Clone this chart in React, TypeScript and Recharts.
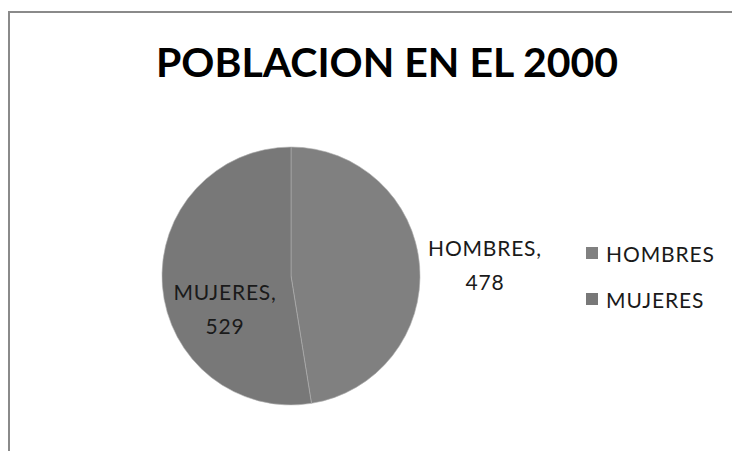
import React from 'react';
import { PieChart, Pie, Cell, Legend } from 'recharts';

const categories = ['HOMBRES', 'MUJERES'];
const values = [478, 529];
const colors = ['#808080', '#787878'];
const title = 'POBLACION EN EL 2000';

const data = categories.map((name, i) => ({ name, value: values[i] }));

const FONT = 'Lato, "Open Sans", sans-serif';

// label offsets relative to the pie centre, per slice
const labelAnchors = [
  { dx: 194, dy: -10 },
  { dx: -66, dy: 34 },
];

const renderLabel = (props: any) => {
  const { cx, cy, index, name, value } = props;
  const a = labelAnchors[index];
  const x = cx + a.dx;
  const y = cy + a.dy;
  return (
    <text x={x} y={y} textAnchor="middle" fill="#1a1a1a" fontFamily={FONT} fontSize={21} letterSpacing={0.8}>
      <tspan x={x} dy={-10}>{name + ','}</tspan>
      <tspan x={x} dy={34}>{value}</tspan>
    </text>
  );
};

const LegendContent = () => (
  <div style={{ fontFamily: FONT, fontSize: 21, letterSpacing: 0.9, color: '#1a1a1a' }}>
    {data.map((d, i) => (
      <div key={d.name} style={{ display: 'flex', alignItems: 'center', height: 46 }}>
        <span style={{ width: 12, height: 12, background: colors[i], marginRight: 8, display: 'inline-block' }} />
        <span>{d.name}</span>
      </div>
    ))}
  </div>
);

export default function App() {
  return (
    <div style={{ position: 'absolute', left: 0, top: 0, width: 732, height: 451, background: '#fff', overflow: 'hidden' }}>
      <div style={{ position: 'absolute', left: 8, top: 11, width: 740, height: 2, background: '#8a8a8a' }} />
      <div style={{ position: 'absolute', left: 8, top: 11, width: 2, height: 450, background: '#8a8a8a' }} />
      <div
        style={{
          position: 'absolute',
          left: 0,
          top: 37,
          width: 774,
          textAlign: 'center',
          fontFamily: FONT,
          fontWeight: 700,
          fontSize: 41,
          letterSpacing: 0,
          color: '#000',
        }}
      >
        {title}
      </div>
      <div style={{ position: 'absolute', left: 0, top: 0 }}>
        <PieChart width={732} height={451} margin={{ top: 0, right: 0, bottom: 0, left: 0 }}>
          <Pie
            data={data}
            dataKey="value"
            nameKey="name"
            cx={291}
            cy={276}
            outerRadius={129}
            startAngle={90}
            endAngle={-270}
            stroke="#b0b0b0"
            strokeWidth={0.6}
            label={renderLabel}
            labelLine={false}
            isAnimationActive={false}
          >
            {data.map((d, i) => (
              <Cell key={d.name} fill={colors[i]} />
            ))}
          </Pie>
          <Legend
            layout="vertical"
            content={<LegendContent />}
            wrapperStyle={{ position: 'absolute', left: 586, top: 230, width: 130 }}
          />
        </PieChart>
      </div>
    </div>
  );
}
